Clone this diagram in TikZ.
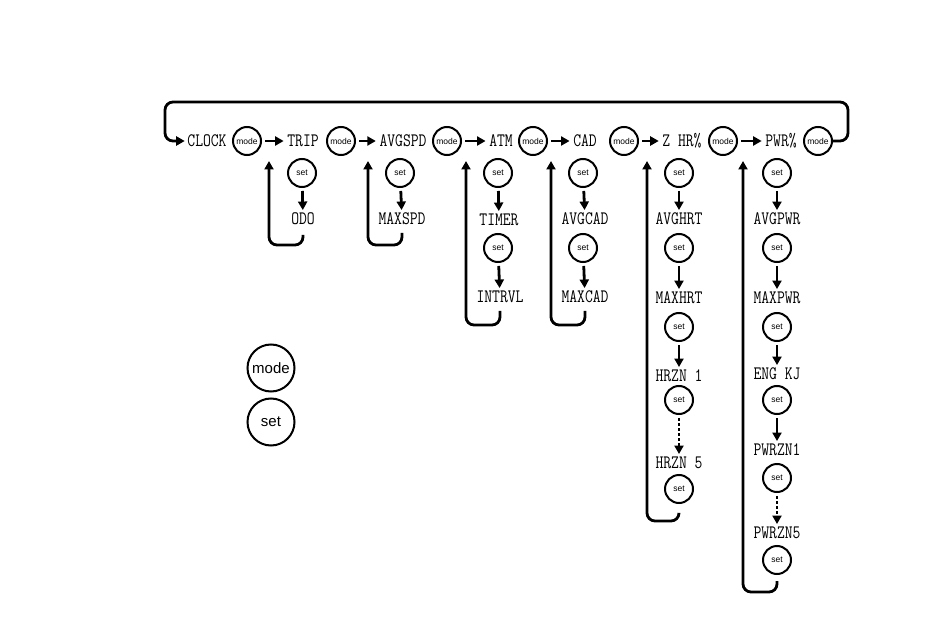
\documentclass[tikz,border=0pt]{standalone}
\usepackage{fontspec}
\setmainfont{Liberation Sans}
\newfontfamily\lcdfont[FakeStretch=0.8]{Latin Modern Mono}
\usetikzlibrary{arrows.meta}
\begin{document}
\begin{tikzpicture}[x=1pt,y=-1pt,
  lbl/.style={font=\lcdfont\fontsize{19}{19}\selectfont, inner xsep=1.5pt, inner ysep=1pt, text height=11.5pt, text depth=0pt},
  btn/.style={circle, draw, line width=2pt, minimum size=28pt, inner sep=0pt, font=\fontsize{8.5}{8.5}\selectfont},
  bigbtn/.style={circle, draw, line width=2pt, minimum size=47pt, inner sep=0pt, font=\fontsize{15}{15}\selectfont},
  arr/.style={line width=2.8pt, -{Triangle[length=8.5pt,width=9pt]}, shorten <=3pt, shorten >=2pt},
  dotarr/.style={arr, dash pattern=on 3pt off 2pt},
  ret/.style={line width=2.8pt, rounded corners=8pt, -{Triangle[length=8.5pt,width=9pt]}},
  ]
\useasboundingbox (0,0) rectangle (950,628);
% main row
\node[lbl] (clock) at (207,141) {CLOCK};
\node[btn] (m1) at (247,141) {mode};
\node[lbl] (trip) at (303,141) {TRIP};
\node[btn] (m2) at (341,141) {mode};
\node[lbl] (avgspd) at (403,141) {AVGSPD};
\node[btn] (m3) at (447,141) {mode};
\node[lbl] (atm) at (501,141) {ATM};
\node[btn] (m4) at (533,141) {mode};
\node[lbl] (cad) at (585,141) {CAD};
\node[btn] (m5) at (624,141) {mode};
\node[lbl] (zhr) at (682,141) {Z HR\%};
\node[btn] (m6) at (723,141) {mode};
\node[lbl] (pwr) at (781,141) {PWR\%};
\node[btn] (m7) at (818,141) {mode};
\draw[arr] (m1) -- (trip);
\draw[arr] (m2) -- (avgspd);
\draw[arr] (m3) -- (atm);
\draw[arr] (m4) -- (cad);
\draw[arr] (m5) -- (zhr);
\draw[arr] (m6) -- (pwr);
% top loop
\coordinate (tr) at (848,102);
\coordinate (tl) at (165,102);
\draw[ret, shorten >=1pt] (m7) -| (tr) -- (tl) |- (clock);
% TRIP column
\node[btn] (s1a) at (302,173) {set};
\node[lbl] (odo) at (303,219) {ODO};
\draw[arr] (s1a) -- (odo);
\coordinate (b1) at (269,245);
\coordinate (r1) at (269,161);
\draw[ret, shorten <=9pt] (odo) |- (b1) -- (r1);
% AVGSPD column
\node[btn] (s2a) at (400,173) {set};
\node[lbl] (maxspd) at (402,219) {MAXSPD};
\draw[arr] (s2a) -- (maxspd);
\coordinate (b2) at (368,245);
\coordinate (r2) at (368,161);
\draw[ret, shorten <=7pt] (maxspd) |- (b2) -- (r2);
% ATM column
\node[btn] (s3a) at (498,173) {set};
\node[lbl] (timer) at (499,220) {TIMER};
\node[btn] (s3b) at (498,248) {set};
\node[lbl] (intrvl) at (500,297) {INTRVL};
\draw[arr] (s3a) -- (timer);
\draw[arr] (s3b) -- (intrvl);
\coordinate (b3) at (466,325);
\coordinate (r3) at (466,161);
\draw[ret, shorten <=7pt] (intrvl) |- (b3) -- (r3);
% CAD column
\node[btn] (s4a) at (583,173) {set};
\node[lbl] (avgcad) at (585,219) {AVGCAD};
\node[btn] (s4b) at (583,248) {set};
\node[lbl] (maxcad) at (585,297) {MAXCAD};
\draw[arr] (s4a) -- (avgcad);
\draw[arr] (s4b) -- (maxcad);
\coordinate (b4) at (551,325);
\coordinate (r4) at (551,161);
\draw[ret, shorten <=7pt] (maxcad) |- (b4) -- (r4);
% Z HR% column
\node[btn] (s5a) at (679,173) {set};
\node[lbl] (avghrt) at (679,219) {AVGHRT};
\node[btn] (s5b) at (679,248) {set};
\node[lbl] (maxhrt) at (679,298) {MAXHRT};
\node[btn] (s5c) at (679,327) {set};
\node[lbl] (hrzn1) at (679,376) {HRZN 1};
\node[btn] (s5d) at (679,400) {set};
\node[lbl] (hrzn5) at (679,463) {HRZN 5};
\node[btn] (s5e) at (679,489) {set};
\draw[arr] (s5a) -- (avghrt);
\draw[arr] (s5b) -- (maxhrt);
\draw[arr] (s5c) -- (hrzn1);
\draw[dotarr] (s5d) -- (hrzn5);
\coordinate (b5) at (647,521);
\coordinate (r5) at (647,161);
\draw[ret, shorten <=10pt] (s5e) |- (b5) -- (r5);
% PWR% column
\node[btn] (s6a) at (777,173) {set};
\node[lbl] (avgpwr) at (777,219) {AVGPWR};
\node[btn] (s6b) at (777,248) {set};
\node[lbl] (maxpwr) at (777,298) {MAXPWR};
\node[btn] (s6c) at (777,327) {set};
\node[lbl] (engkj) at (777,374) {ENG KJ};
\node[btn] (s6d) at (777,400) {set};
\node[lbl] (pwrzn1) at (777,450) {PWRZN1};
\node[btn] (s6e) at (777,478) {set};
\node[lbl] (pwrzn5) at (777,533) {PWRZN5};
\node[btn] (s6f) at (777,560) {set};
\draw[arr] (s6a) -- (avgpwr);
\draw[arr] (s6b) -- (maxpwr);
\draw[arr] (s6c) -- (engkj);
\draw[arr] (s6d) -- (pwrzn1);
\draw[dotarr] (s6e) -- (pwrzn5);
\coordinate (b6) at (743,592);
\coordinate (r6) at (743,161);
\draw[ret, shorten <=6pt] (s6f) |- (b6) -- (r6);
% legend
\node[bigbtn] (lmode) at (271,368) {mode};
\node[bigbtn] (lset) at (271,422) {set};
\end{tikzpicture}
\end{document}
